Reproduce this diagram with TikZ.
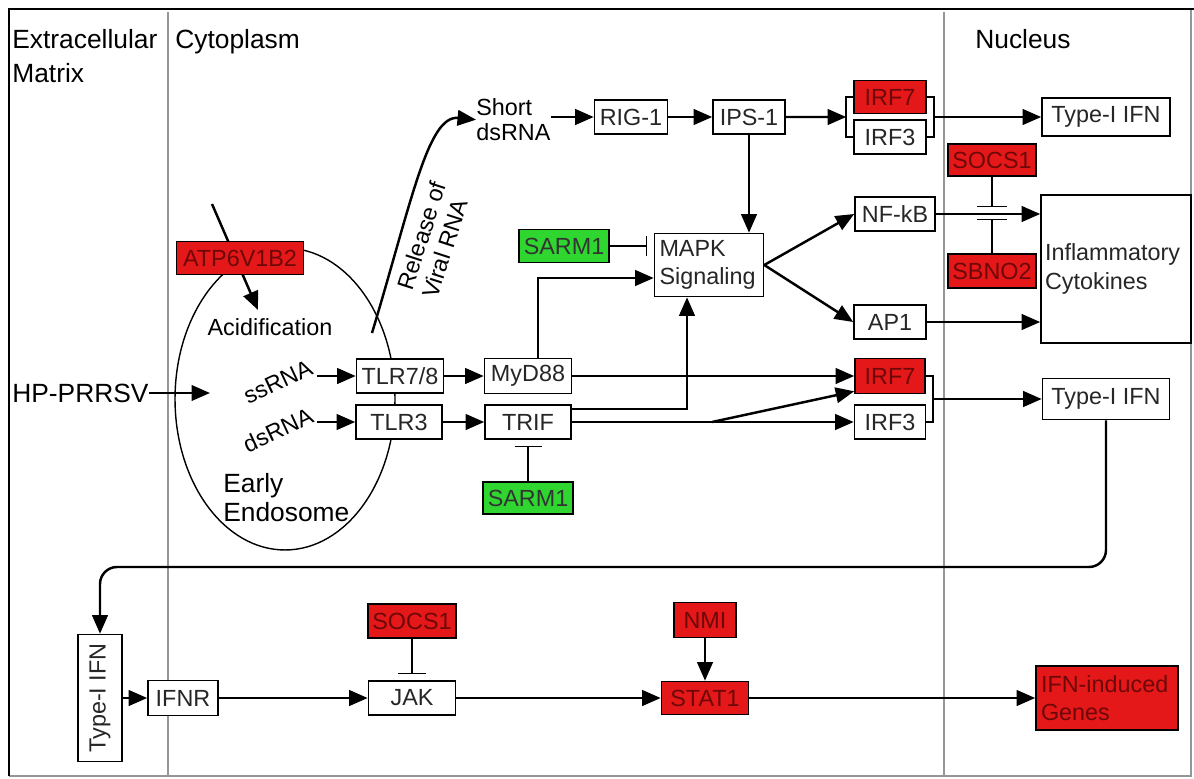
\documentclass[tikz,border=0pt]{standalone}
\usepackage{fontspec}
\setmainfont{Liberation Sans}
\usepackage{tikz}
\usetikzlibrary{arrows.meta, calc, positioning}

\definecolor{genered}{RGB}{228,24,24}
\definecolor{genetext}{RGB}{110,8,8}
\definecolor{genegreen}{RGB}{48,214,48}
\definecolor{sepgray}{RGB}{150,150,150}

\tikzset{
  box/.style={draw, line width=0.9pt, fill=white, minimum height=0.68cm, inner sep=2pt, text=black!85},
  redbox/.style={box, fill=genered, text=genetext},
  greenbox/.style={box, fill=genegreen, text=black!80},
  region/.style={anchor=north west, inner sep=0pt, align=left, font=\fontsize{15}{19.3}\selectfont},
  flow/.style={->, line width=1.4pt},
  block/.style={-{Bar[width=#1]}, line width=0.6pt},
  block/.default=0.56cm
}

\begin{document}
\begin{tikzpicture}[x=0.02cm, y=-0.02cm, >={Triangle[length=0.37cm, width=0.31cm]},
  font=\fontsize{13.3}{16}\selectfont]
  \useasboundingbox (0,0) rectangle (1194,778);

  % frame and compartments
  \draw[sepgray, line width=0.6pt] (1191,9) -- (1191,776) -- (9,776);
  \draw[line width=1.4pt] (9,776) -- (9,9) -- (1194,9);
  \draw[sepgray, line width=0.7pt] (168,12) -- (168,776);
  \draw[sepgray, line width=0.7pt] (944,12) -- (944,776);
  \node[region] (ecm) at (12,29) {Extracellular\\Matrix};
  \node[region] (cyt) at (175,29) {Cytoplasm};
  \node[region] (nuc) at (975,29) {Nucleus};

  % endosome
  \draw[line width=0.8pt] (285,399) ellipse [x radius=2.2cm, y radius=3.02cm];
  \coordinate (atpin) at (212,204);
  \coordinate (atptip) at (258,310);
  \draw[flow] (atpin) -- (atptip);
  \node[redbox, minimum width=2.54cm, minimum height=0.66cm] (atp) at (240,258) {ATP6V1B2};
  \node (acid) at (270,327) {Acidification};
  \node[anchor=west, inner sep=0pt, font=\fontsize{15}{18}\selectfont] (hp) at (12,393) {HP-PRRSV};
  \coordinate (hpin) at (210,393);
  \draw[flow] (hp.east) -- (hpin);
  \node[rotate=25] (ss) at (278,382) {ssRNA};
  \node[rotate=25] (ds) at (278,430) {dsRNA};
  \node[anchor=north west, inner sep=0pt, align=left, font=\fontsize{15}{16.5}\selectfont] (endo) at (223,473) {Early\\Endosome};

  % release of viral RNA
  \node[anchor=north west, inner sep=0pt, align=left, font=\fontsize{13.3}{14.5}\selectfont] (short) at (476,98) {Short\\dsRNA};
  \coordinate (relout) at (372,333);
  \draw[flow] (relout) .. controls (412,200) and (428,115) .. (short.west);
  \node[rotate=72, align=left, inner sep=1pt, font=\fontsize{13.3}{15}\selectfont] (rel) at (434,240) {Release of\\Viral RNA};

  % RIG-1 branch
  \node[box, minimum width=1.46cm] (rig) at (631,117) {RIG-1};
  \node[box, minimum width=1.44cm] (ips) at (749,117) {IPS-1};
  \node[redbox, minimum width=1.44cm, minimum height=0.66cm] (irf7a) at (890,97) {IRF7};
  \node[box, minimum width=1.44cm] (irf3a) at (890,137) {IRF3};
  \node[box, minimum width=2.56cm, minimum height=0.76cm] (ifna) at (1106,117) {Type-I IFN};
  \draw[flow] (short.east |- rig) -- (rig.west);
  \draw[flow] (rig) -- (ips);
  \draw[line width=0.9pt] (irf7a.west) -- ++(-7,0) |- (irf3a.west);
  \draw[line width=0.9pt] (irf7a.east) -- ++(7,0) |- (irf3a.east);
  \coordinate (brla) at ($(irf7a.west)!0.5!(irf3a.west)+(-7,0)$);
  \coordinate (brra) at ($(irf7a.east)!0.5!(irf3a.east)+(7,0)$);
  \draw[flow] (ips.east) -- (brla);
  \draw[flow] (brra) -- (brra -| ifna.west);

  % MAPK and cytokines
  \node[box, text width=1.98cm, minimum height=1.26cm, align=left, inner sep=0.1cm] (mapk) at (709,265) {MAPK\\Signaling};
  \node[greenbox, minimum width=1.8cm, minimum height=0.66cm] (sarma) at (564,246) {SARM1};
  \draw[flow] (ips.south) -- (ips.south |- mapk.north);
  \draw[block=0.4cm] (sarma.east) -- ($(sarma.east -| mapk.west)+(-7,0)$);
  \node[box, minimum width=1.6cm] (nfkb) at (895,214) {NF-kB};
  \node[box, minimum width=1.44cm] (ap1) at (890,322) {AP1};
  \node[box, text width=2.84cm, minimum height=2.96cm, align=left, inner sep=0.08cm] (cyto) at (1116,269) {Inflammatory\\Cytokines};
  \draw[flow] (mapk.east) -- (nfkb.west);
  \draw[flow] (mapk.east) -- (ap1.west);
  \draw[flow] (nfkb.east) -- (nfkb.east -| cyto.west);
  \draw[flow] (ap1.east) -- (ap1.east -| cyto.west);
  \node[redbox, minimum width=1.76cm, minimum height=0.64cm] (socsa) at (992,160) {SOCS1};
  \node[redbox, minimum width=1.76cm] (sbno) at (992,271) {SBNO2};
  \draw[block=0.6cm] (socsa.south) -- ($(socsa.south |- nfkb.east)+(0,-7)$);
  \draw[block=0.6cm] (sbno.north) -- ($(sbno.north |- nfkb.east)+(0,5)$);

  % Toll-like receptors
  \node[box, minimum width=1.74cm] (tlr78) at (400,376) {TLR7/8};
  \node[box, minimum width=1.72cm] (tlr3) at (399,422) {TLR3};
  \node[box, minimum width=1.74cm, minimum height=0.7cm] (myd) at (528,376) {MyD88};
  \node[box, minimum width=1.72cm] (trif) at (528,422) {TRIF};
  \node[greenbox, minimum width=1.8cm, minimum height=0.64cm] (sarmb) at (528,498) {SARM1};
  \node[redbox, minimum width=1.4cm, minimum height=0.7cm] (irf7b) at (890,376) {IRF7};
  \node[box, minimum width=1.42cm] (irf3b) at (890,422) {IRF3};
  \node[box, minimum width=2.54cm, minimum height=0.82cm] (ifnb) at (1106,399) {Type-I IFN};
  \draw[flow] (ss.east |- tlr78) -- (tlr78.west);
  \draw[flow] (ds.east |- tlr3) -- (tlr3.west);
  \draw[flow] (tlr78) -- (myd);
  \draw[flow] (tlr3) -- (trif);
  \draw[flow] ($(myd.north)+(10,0)$) |- ($(mapk.west)+(0,13)$);
  \draw[flow] ($(trif.east)+(0,-13)$) -| ($(mapk.south)+(-22,0)$);
  \draw[flow] (myd.east) -- (irf7b.west);
  \draw[flow] (trif.east) -- (irf3b.west);
  \coordinate (split) at (712,422);
  \draw[flow] (split) -- ($(irf7b.south west)+(0,-3)$);
  \draw[block=0.54cm] (sarmb.north) -- ($(trif.south)+(0,6)$);
  \draw[line width=0.9pt] (irf7b.east) -- ++(7,0) |- (irf3b.east);
  \coordinate (brrb) at ($(irf7b.east)!0.5!(irf3b.east)+(7,0)$);
  \draw[flow] (brrb) -- (brrb -| ifnb.west);

  % interferon signalling
  \node[box, minimum width=0.88cm, minimum height=2.54cm, inner sep=0pt] (ifnv) at (100,698) {\rotatebox{90}{Type-I IFN}};
  \node[box, minimum width=1.4cm, minimum height=0.7cm] (ifnr) at (183,698) {IFNR};
  \node[box, minimum width=1.74cm] (jak) at (412,698) {JAK};
  \node[redbox, minimum width=1.76cm] (socsb) at (412,621) {SOCS1};
  \node[redbox, minimum width=1.24cm, minimum height=0.7cm] (nmi) at (705,620) {NMI};
  \node[redbox, minimum width=1.74cm, minimum height=0.66cm] (stat) at (705,698) {STAT1};
  \node[redbox, text width=2.64cm, minimum height=1.28cm, align=left, inner sep=0.1cm] (genes) at (1107,698) {IFN-induced\\Genes};
  \coordinate (loopy) at (600,567);
  \draw[flow, rounded corners=0.34cm] (ifnb.south) |- (loopy) -| (ifnv.north);
  \draw[flow] (ifnv.east) -- (ifnr.west);
  \draw[flow] (ifnr) -- (jak);
  \draw[flow] (jak) -- (stat);
  \draw[flow] (stat) -- (genes);
  \draw[block] (socsb.south) -- ($(jak.north)+(0,-6)$);
  \draw[flow] (nmi) -- (stat);
\end{tikzpicture}
\end{document}
